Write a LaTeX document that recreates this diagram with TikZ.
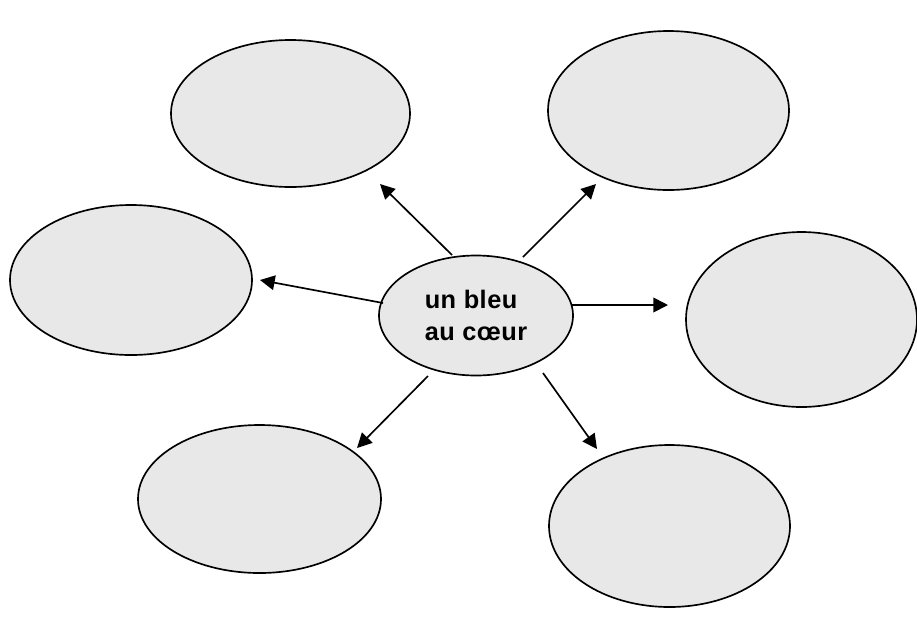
\documentclass[tikz,border=0pt]{standalone}
\usepackage{fontspec}
\setmainfont{Liberation Sans}
\usetikzlibrary{shapes.geometric,arrows.meta}
\definecolor{bubble}{RGB}{232,232,232}
\tikzset{
  bub/.style={ellipse, draw=black, line width=1.25pt, fill=bubble, inner sep=0pt},
  link/.style={line width=1.25pt, -{Triangle[length=11pt,width=11pt]}}
}
\begin{document}
\begin{tikzpicture}[x=0.75pt,y=-0.75pt]
\useasboundingbox (0,0) rectangle (917,619);
\node[bub, minimum width=179.25pt, minimum height=110.25pt] (tl) at (290.5,113.5) {};
\node[bub, minimum width=180.75pt, minimum height=119.25pt] (tr) at (668.5,110.5) {};
\node[bub, minimum width=181.5pt, minimum height=112.5pt] (l) at (131,280) {};
\node[bub, minimum width=173.25pt, minimum height=131.25pt] (r) at (801.5,319.5) {};
\node[bub, minimum width=182.25pt, minimum height=111pt] (bl) at (259.5,499) {};
\node[bub, minimum width=180.75pt, minimum height=121.5pt] (br) at (669.5,526) {};
\node[bub, minimum width=145.5pt, minimum height=90pt, align=left,
      font=\fontsize{19}{24.5}\selectfont\bfseries\addfontfeature{LetterSpace=2}] (c) at (476,315.5) {un bleu\\au cœur};
\coordinate (s1) at (452,255);
\coordinate (e1) at (380,184);
\coordinate (s2) at (383,303);
\coordinate (e2) at (260,280);
\coordinate (s3) at (523,257);
\coordinate (e3) at (596,184);
\coordinate (s4) at (572,305);
\coordinate (e4) at (668,305);
\coordinate (s5) at (428,376);
\coordinate (e5) at (357,448);
\coordinate (s6) at (543,373);
\coordinate (e6) at (597,449);
\draw[link] (s1) -- (e1);
\draw[link] (s2) -- (e2);
\draw[link] (s3) -- (e3);
\draw[link] (s4) -- (e4);
\draw[link] (s5) -- (e5);
\draw[link] (s6) -- (e6);
\end{tikzpicture}
\end{document}
